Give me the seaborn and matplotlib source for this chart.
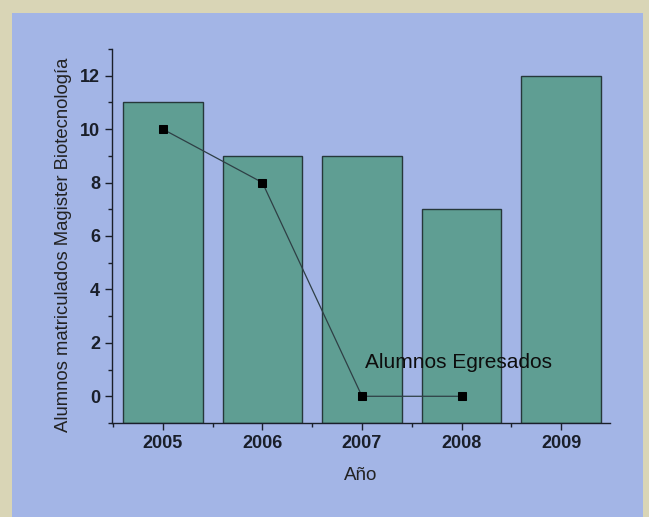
import pandas as pd
import matplotlib.pyplot as plt
import matplotlib.patches as mpatches
from matplotlib.ticker import MultipleLocator
import seaborn as sns

# data
years = [2005, 2006, 2007, 2008, 2009]
matriculados = [11, 9, 9, 7, 12]
egresados_years = [2005, 2006, 2007, 2008]
egresados = [10, 8, 0, 0]

BLUE = "#a3b5e6"
TEAL = "#5f9e93"
BEIGE = "#d9d5b6"
YMIN = -1

sns.set_theme(style="ticks")
plt.rcParams["font.family"] = ["Liberation Sans", "DejaVu Sans"]

fig = plt.figure(figsize=(6.49, 5.17), dpi=100, facecolor=BEIGE)
fig.patches.append(mpatches.Rectangle((12 / 649, 0), 631 / 649, 504 / 517,
                                      transform=fig.transFigure,
                                      facecolor=BLUE, edgecolor="none", zorder=-10))
ax = fig.add_axes([112 / 649, 94 / 517, 498 / 649, 374 / 517])
ax.set_facecolor("none")
ax.set_zorder(5)

df = pd.DataFrame({"Año": years, "Alumnos": matriculados})
sns.barplot(data=df, x="Año", y="Alumnos", native_scale=True, width=0.8,
            color=TEAL, saturation=1, edgecolor="#26383a", linewidth=1.0, ax=ax)
# Origin-style bars start at the x axis, not at zero
for p in ax.patches:
    p.set_height(p.get_height() - YMIN)
    p.set_y(YMIN)

eg = pd.DataFrame({"Año": egresados_years, "Egresados": egresados})
sns.lineplot(data=eg, x="Año", y="Egresados", color="#2e3f45", linewidth=0.9,
             marker="s", markersize=6, markerfacecolor="black",
             markeredgecolor="black", ax=ax)

ax.text(2007.03, 1.27, "Alumnos Egresados", ha="left", va="center",
        fontsize=15, color="#0d0d0d")

ax.set_xlim(2004.49, 2009.49)
ax.set_ylim(YMIN, 13)
ax.set_xticks(years)
ax.set_xticklabels([str(y) for y in years])
ax.xaxis.set_minor_locator(MultipleLocator(0.5))
ax.yaxis.set_major_locator(MultipleLocator(2))
ax.yaxis.set_minor_locator(MultipleLocator(1))
ax.set_ylim(YMIN, 13)

for side in ["top", "right"]:
    ax.spines[side].set_visible(False)
for side in ["left", "bottom"]:
    ax.spines[side].set_color("#1a1f2a")
    ax.spines[side].set_linewidth(1.0)

ax.tick_params(which="major", length=5, width=1, color="#1a1f2a",
               labelsize=13, labelcolor="#1a1f2a")
ax.tick_params(which="minor", length=3, width=1, color="#1a1f2a")
for lbl in ax.get_xticklabels() + ax.get_yticklabels():
    lbl.set_fontweight("bold")

ax.set_xlabel("Año", fontsize=13.5, color="#222222", labelpad=11)
ax.set_ylabel("Alumnos matriculados Magister Biotecnología", fontsize=13.3,
              color="#222222")
ax.yaxis.set_label_coords(-0.080, 0.476)

fig.savefig("out.png", dpi=100, facecolor=fig.get_facecolor())
